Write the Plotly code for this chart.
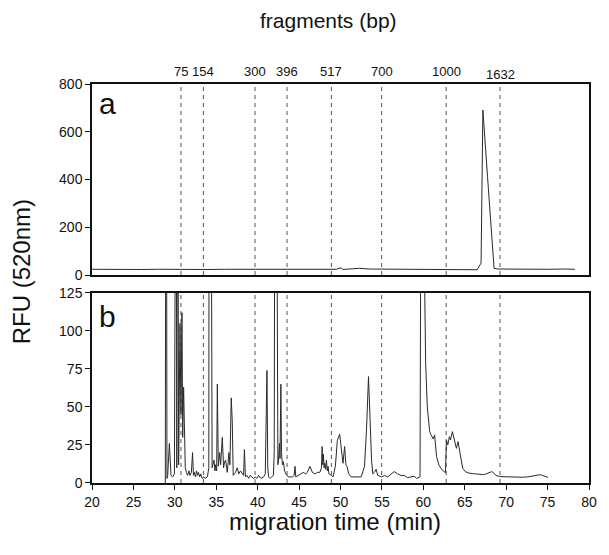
import plotly.graph_objects as go

# ---- data ----
marker_bp = ["75", "154", "300", "396", "517", "700", "1000", "1632"]
marker_time = [30.74, 33.45, 39.68, 43.55, 48.9, 54.97, 62.76, 69.26]

a_time = [20, 22, 24, 26, 28, 30, 32, 34, 36, 38, 40, 42, 44, 46, 48, 49.5, 50.06, 50.3,
          51, 52.3, 53.5, 55, 57, 59, 61, 63, 65, 66.5, 66.97, 67.19, 67.75, 68.38, 68.54,
          69, 71, 73, 75, 77, 78.3]
a_rfu = [24, 23, 24, 23, 24, 23, 24, 23, 24, 24, 23, 25, 24, 24, 23, 24, 30, 23,
         25, 28, 25, 25, 24, 25, 24, 23, 22, 22, 50, 691, 412, 119, 28,
         25, 24, 25, 24, 25, 24]

b_time = [28.85, 28.95, 29.05, 29.14, 29.34, 29.45, 29.54, 29.74, 29.95, 30.14, 30.24, 30.34,
          30.46, 30.62, 30.74, 30.86, 30.95, 31.06, 31.16, 31.26, 31.4, 31.54, 31.7, 31.82,
          32.0, 32.14, 32.25, 32.34, 32.5, 32.61, 32.75, 32.85, 33.0, 33.13, 33.3, 33.5,
          33.65, 33.93, 34.1, 34.15, 34.35, 34.5, 34.73, 34.85, 34.93, 35.05, 35.13, 35.25,
          35.41, 35.53, 35.73, 35.89, 36.0, 36.13, 36.33, 36.53, 36.65, 36.81, 36.93, 37.05,
          37.2, 37.33, 37.53, 37.72, 37.92, 38.12, 38.3, 38.4, 38.52, 38.7, 38.92, 39.1,
          39.32, 39.5, 39.72, 39.9, 40.12, 40.4, 40.72, 40.92, 41.12, 41.22, 41.32, 41.5,
          41.7, 41.9, 42.0, 42.1, 42.25, 42.35, 42.44, 42.55, 42.64, 42.7, 42.8, 42.88,
          42.99, 43.1, 43.25, 43.4, 43.51, 43.7, 43.91, 44.2, 44.4, 44.51, 44.6, 44.91,
          45.2, 45.51, 45.8, 46.0, 46.31, 46.6, 46.91, 47.2, 47.51, 47.7, 47.78, 47.86,
          47.94, 48.02, 48.11, 48.2, 48.3, 48.4, 48.5, 48.6, 48.9, 49.1, 49.38, 49.62,
          49.9, 50.05, 50.18, 50.3, 50.5, 50.65, 50.78, 51.0, 51.3, 51.7, 52.1, 52.5,
          52.9, 53.14, 53.38, 53.5, 53.62, 53.75, 53.9, 54.1, 54.3, 54.5, 54.97, 55.3,
          55.69, 56.1, 56.49, 56.9, 57.29, 57.7, 58.08, 58.5, 58.88, 59.2, 59.48, 59.6,
          59.76, 60.0, 60.1, 60.28, 60.48, 60.76, 60.9, 61.08, 61.2, 61.36, 61.6, 61.88,
          62.27, 62.67, 62.79, 62.95, 63.15, 63.27, 63.51, 63.75, 63.99, 64.19, 64.47, 64.75,
          65.07, 65.5, 66.07, 66.7, 67.27, 67.6, 67.87, 68.26, 68.5, 68.78, 69.26, 70.0,
          70.6, 71.26, 72.0, 72.6, 73.25, 73.7, 74.13, 74.45, 74.8, 75.05]
b_rfu = [0, 400, 3, 5, 26, 8, 5, 4, 6, 300, 10, 300,
         12, 105, 45, 112, 30, 63, 20, 10, 7, 5, 8, 5,
         7, 20, 5, 7, 4, 8, 5, 7, 4, 6, 3, 4,
         3, 4, 10, 300, 300, 10, 15, 8, 12, 8, 65, 11,
         20, 12, 30, 10, 14, 15, 7, 20, 12, 56, 41, 5,
         6, 7, 10, 6, 8, 6, 5, 22, 4, 5, 3, 5,
         4, 3, 4, 3, 5, 3, 4, 6, 74, 10, 4, 3,
         4, 5, 20, 300, 300, 20, 12, 18, 26, 16, 65, 20,
         12, 14, 8, 6, 5, 4, 4, 4, 5, 11, 4, 5,
         6, 7, 6, 7, 11, 7, 6, 7, 7, 10, 24, 12,
         19, 10, 13, 9, 15, 8, 11, 6, 5, 4, 11, 28,
         32, 25, 19, 13, 24, 12, 11, 6, 4, 4, 4, 4,
         11, 35, 70, 50, 37, 15, 6, 7, 9, 5, 4, 5,
         4, 6, 7.5, 6, 5, 5, 3.5, 4, 4.5, 3, 4, 4,
         300, 300, 140, 79, 50, 34, 32, 30.5, 29, 31.6, 17.3, 11.8,
         8.6, 6.8, 28.3, 25, 30.5, 28.3, 33.8, 28.3, 22.8, 27.2, 19.5, 9.7,
         7.5, 6.5, 6.1, 5.8, 5.5, 6, 6.8, 7.5, 6.5, 5, 4.2, 4,
         3.7, 3.7, 3.8, 4, 4.6, 5, 5.5, 4.8, 4, 3.7]

x_ticks = [20, 25, 30, 35, 40, 45, 50, 55, 60, 65, 70, 75, 80]
a_ticks = [0, 200, 400, 600, 800]
b_ticks = [0, 25, 50, 75, 100, 125]

FONT = "Liberation Sans, Arial, Helvetica, sans-serif"
LINE = "#2a2a2a"
AX = "#111111"

fig = go.Figure()
fig.add_trace(go.Scatter(x=a_time, y=a_rfu, xaxis="x2", yaxis="y", mode="lines",
                         line=dict(color=LINE, width=1), showlegend=False, hoverinfo="skip"))
fig.add_trace(go.Scatter(x=b_time, y=b_rfu, xaxis="x", yaxis="y2", mode="lines",
                         line=dict(color=LINE, width=1), showlegend=False, hoverinfo="skip"))

shapes = []
for t in marker_time:
    for yr in ["y domain", "y2 domain"]:
        shapes.append(dict(type="line", xref="x", yref=yr, x0=t, x1=t, y0=0, y1=1,
                           line=dict(color="#555555", width=1, dash="4px,4px"), layer="below"))

annotations = []
for lbl, t in zip(marker_bp, marker_time):
    annotations.append(dict(text=lbl, x=t, xref="x", y=1.032 if lbl != "1632" else 1.025,
                            yref="paper", showarrow=False, font=dict(family=FONT, size=13, color="#111"),
                            xanchor="center", yanchor="middle"))
annotations += [
    dict(text="fragments (bp)", x=0.475, y=1.158, xref="paper", yref="paper", showarrow=False,
         font=dict(family=FONT, size=21, color="#111"), xanchor="center", yanchor="middle"),
    dict(text="migration time (min)", x=0.489, y=-0.0977, xref="paper", yref="paper", showarrow=False,
         font=dict(family=FONT, size=24, color="#111"), xanchor="center", yanchor="middle"),
    dict(text="RFU (520nm)", x=-0.14, y=0.529, xref="paper", yref="paper", showarrow=False,
         textangle=-90, font=dict(family=FONT, size=24, color="#111"), xanchor="center", yanchor="middle"),
    dict(text="a", x=0.032, y=0.95, xref="paper", yref="paper", showarrow=False,
         font=dict(family=FONT, size=30, color="#111"), xanchor="center", yanchor="middle"),
    dict(text="b", x=0.032, y=0.418, xref="paper", yref="paper", showarrow=False,
         font=dict(family=FONT, size=30, color="#111"), xanchor="center", yanchor="middle"),
]

axis_common = dict(showline=True, linecolor=AX, linewidth=1.5, mirror=True, showgrid=False,
                   zeroline=False, ticks="outside", ticklen=5, tickwidth=1.2, tickcolor=AX,
                   tickfont=dict(family=FONT, size=14, color="#111"))

fig.update_layout(
    width=601, height=547,
    margin=dict(l=84, r=16, t=76, b=72),
    paper_bgcolor="white", plot_bgcolor="white",
    xaxis=dict(domain=[0, 1], anchor="y2", range=[20, 80], tickvals=x_ticks, **axis_common),
    xaxis2=dict(domain=[0, 1], anchor="y", range=[20, 80], matches="x", showticklabels=False,
                **{k: v for k, v in axis_common.items() if k not in ("ticks",)}, ticks=""),
    yaxis=dict(domain=[0.5213, 1], anchor="x2", range=[0, 800], tickvals=a_ticks, **axis_common),
    yaxis2=dict(domain=[0, 0.4762], anchor="x", range=[0, 125], tickvals=b_ticks, **axis_common),
    shapes=shapes, annotations=annotations,
)

fig.write_html("out.html")
